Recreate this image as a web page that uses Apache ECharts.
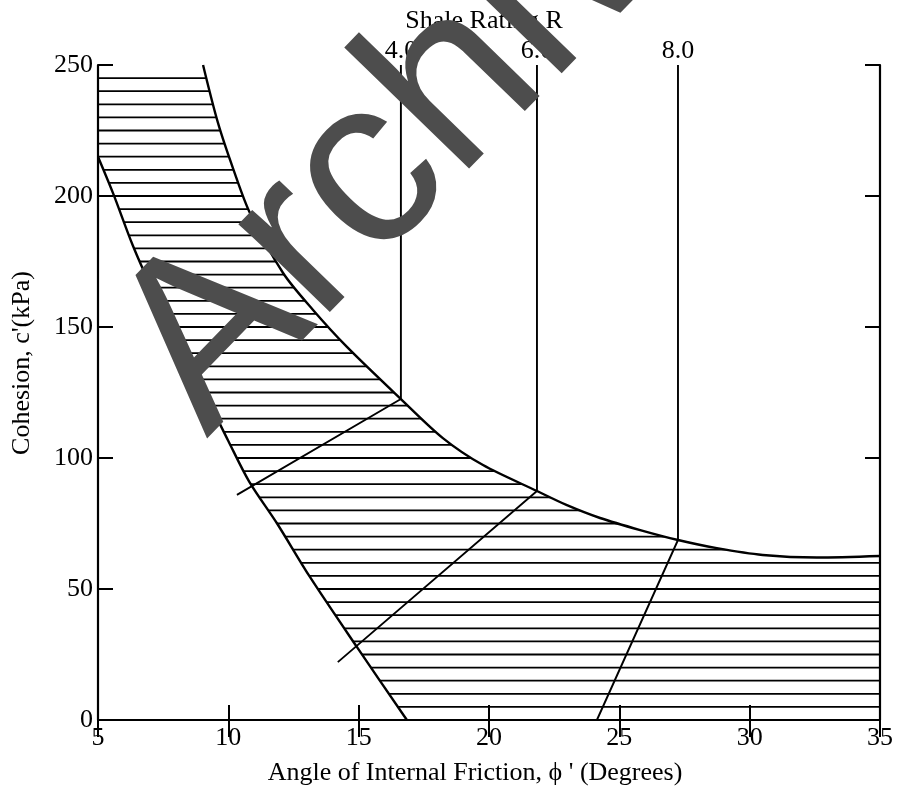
<!DOCTYPE html>
<html><head><meta charset="utf-8">
<script src="https://cdn.jsdelivr.net/npm/echarts@6/dist/echarts.min.js"></script>
<style>html,body{margin:0;padding:0;background:#fff}#c{width:900px;height:788px}</style>
</head><body><div id="c"></div>
<script>
// ---- data ----
const xTickValues = [5, 10, 15, 20, 25, 30, 35];
const yTickValues = [0, 50, 100, 150, 200, 250];
// upper boundary of the hatched band (phi', c')
const upperCurve = [[9.03,250],[9.6,228],[10.2,210],[10.83,193.5],[12.1,170.6],[13.25,156.5],[14.55,142.4],[16.62,122.5],[18.23,107.6],[19.77,97.3],[21.84,87.4],[22.99,82],[24.26,77.1],[25.8,72.5],[27.25,68.7],[28.74,65.6],[30.5,63],[32.58,62],[35,62.6]];
// lower boundary of the hatched band
const lowerCurve = [[5,215],[5.58,201],[6.34,181],[7.0,166],[7.7,151.5],[8.4,137.5],[9.2,122.5],[10.0,106.5],[10.8,91],[11.87,75],[13.13,54.6],[14.93,27.9],[16.85,0]];
// horizontal hatch levels (kPa)
const hatchLevels = [5,10,15,20,25,30,35,40,45,50,55,60,65,70,75,80,85,90,95,100,105,110,115,120,125,130,135,140,145,150,155,160,165,170,175,180,185,190,195,200,205,210,215,220,225,230,235,240,245];
// shale rating lines
const rLabels = ['4.0', '6.0', '8.0'];
const rPhi = [16.62, 21.84, 27.25];
const rTopC = [250, 250, 250];
const rCurveC = [122.5, 87.4, 68.7];
const rDiagEnd = [[10.33, 85.9], [14.2, 22.1], [24.14, 0]];

const FONT = "'Liberation Serif','Times New Roman',serif";
const FS = 26;
const chart = echarts.init(document.getElementById('c'));

const series = [];
// hatch lines
series.push({
  type: 'custom', name: 'hatch', z: 1, silent: true,
  xAxisIndex: 0, yAxisIndex: 0,
  data: hatchLevels.map(c => [xTickValues[0], xTickValues[xTickValues.length - 1], c]),
  encode: { x: [0, 1], y: 2 },
  renderItem: function (params, api) {
    const p1 = api.coord([api.value(0), api.value(2)]);
    const p2 = api.coord([api.value(1), api.value(2)]);
    return { type: 'line', shape: { x1: p1[0], y1: p1[1], x2: p2[0], y2: p2[1] },
      style: { stroke: '#000', lineWidth: 1.8 } };
  }
});
// upper curve (white above it)
series.push({
  type: 'line', name: 'upper', z: 3, data: upperCurve, symbol: 'none', smooth: 0.3,
  lineStyle: { color: '#000', width: 2.4 },
  areaStyle: { color: '#fff', opacity: 1, origin: 'end' }
});
// lower curve (white below it)
series.push({
  type: 'line', name: 'lower', z: 3, data: lowerCurve, symbol: 'none', smooth: 0.3,
  lineStyle: { color: '#000', width: 2.4 },
  areaStyle: { color: '#fff', opacity: 1, origin: 'start' }
});
// shale rating vertical lines + diagonals
rLabels.forEach((lab, i) => {
  series.push({
    type: 'line', name: 'R ' + lab, z: 4, symbol: 'circle', symbolSize: 0.1,
    lineStyle: { color: '#000', width: 1.9 },
    data: [
      { value: [rPhi[i], rTopC[i]], label: { show: true, formatter: lab, position: 'top', distance: 1,
        fontFamily: FONT, fontSize: FS, color: '#000' } },
      [rPhi[i], rCurveC[i]],
      rDiagEnd[i]
    ]
  });
});

const axisCommon = {
  type: 'value', min: 5, max: 35, interval: 5, z: 10,
  splitLine: { show: false },
  axisLine: { lineStyle: { color: '#000', width: 2.2 } },
  axisTick: { inside: true, length: 15, lineStyle: { color: '#000', width: 2 } }
};

chart.setOption({
  backgroundColor: '#fff',
  animation: false,
  grid: { left: 98, right: 20, top: 65, bottom: 68, containLabel: false, outerBoundsMode: 'none' },
  xAxis: [
    Object.assign({}, axisCommon, {
      position: 'bottom',
      axisLabel: { fontFamily: FONT, fontSize: FS, color: '#000', margin: 5 },
      name: "Angle of Internal Friction, \u03D5 ' (Degrees)", nameLocation: 'middle', nameGap: 40,
      nameTextStyle: { fontFamily: FONT, fontSize: FS, color: '#000', padding: [0, 28, 0, 0] }
    }),
    Object.assign({}, axisCommon, {
      position: 'top',
      axisTick: { inside: true, length: 17, lineStyle: { color: '#000', width: 2 } },
      axisLabel: { show: false },
      name: 'Shale Rating R', nameLocation: 'middle', nameGap: 31,
      nameTextStyle: { fontFamily: FONT, fontSize: FS, color: '#000', padding: [0, 10, 0, 0] }
    })
  ],
  yAxis: [
    {
      type: 'value', min: 0, max: 250, interval: 50, position: 'left', z: 10,
      splitLine: { show: false },
      axisLine: { lineStyle: { color: '#000', width: 2.2 } },
      axisTick: { inside: true, length: 15, lineStyle: { color: '#000', width: 2 } },
      axisLabel: { fontFamily: FONT, fontSize: FS, color: '#000', margin: 5 },
      name: "Cohesion, c'(kPa)", nameLocation: 'middle', nameGap: 63,
      nameTextStyle: { fontFamily: FONT, fontSize: FS, color: '#000', padding: [0, 0, 0, 59] }
    },
    {
      type: 'value', min: 0, max: 250, interval: 50, position: 'right', z: 10,
      splitLine: { show: false },
      axisLine: { lineStyle: { color: '#000', width: 2.2 } },
      axisTick: { inside: true, length: 15, lineStyle: { color: '#000', width: 2 } },
      axisLabel: { show: false }
    }
  ],
  graphic: [{
    type: 'text', x: 208, y: 440, rotation: 0.80, z: 100, silent: true,
    style: { text: 'Archive', x: 0, y: -68, font: "240px 'Liberation Sans', Arial, sans-serif",
      fill: '#4d4d4d', textAlign: 'left', verticalAlign: 'middle', textVerticalAlign: 'middle' }
  }],
  series: series
});
</script>
</body></html>
